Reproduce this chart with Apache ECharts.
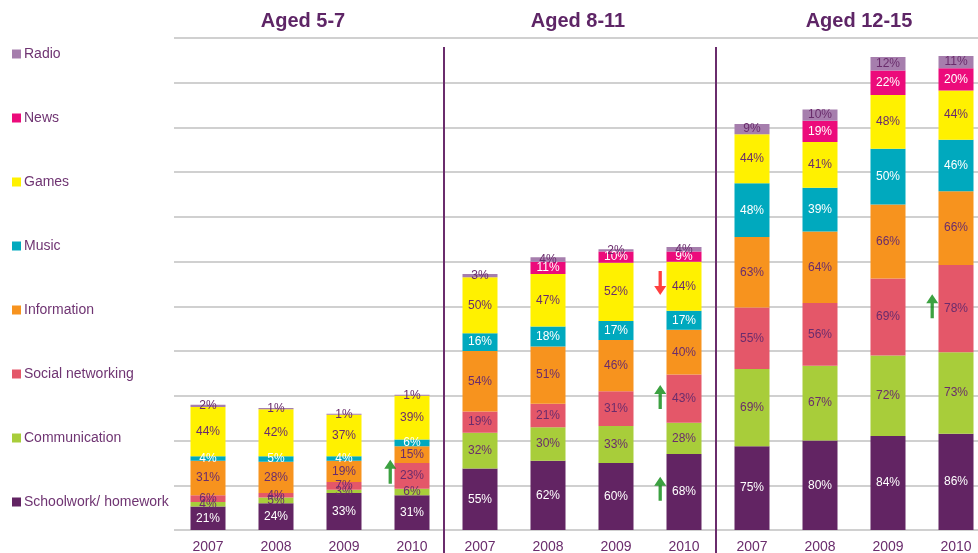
<!DOCTYPE html>
<html>
<head>
<meta charset="utf-8">
<script src="https://cdn.jsdelivr.net/npm/echarts@6/dist/echarts.min.js"></script>
<style>
html,body{margin:0;padding:0;background:#fff;}
#c{width:978px;height:553px;}
</style>
</head>
<body>
<div id="c"></div>
<script>
// ---- data ----
const groups = ['Aged 5-7', 'Aged 8-11', 'Aged 12-15'];
const years = ['2007', '2008', '2009', '2010'];
const schoolwork    = [21, 24, 33, 31, 55, 62, 60, 68, 75, 80, 84, 86];
const communication = [4, 5, 3, 6, 32, 30, 33, 28, 69, 67, 72, 73];
const social        = [6, 4, 7, 23, 19, 21, 31, 43, 55, 56, 69, 78];
const information   = [31, 28, 19, 15, 54, 51, 46, 40, 63, 64, 66, 66];
const music         = [4, 5, 4, 6, 16, 18, 17, 17, 48, 39, 50, 46];
const games         = [44, 42, 37, 39, 50, 47, 52, 44, 44, 41, 48, 44];
const news          = [null, null, null, null, null, 11, 10, 9, null, 19, 22, 20];
const radio         = [2, 1, 1, 1, 3, 4, 2, 4, 9, 10, 12, 11];
// change arrows: [position on group axis, value, direction]
const arrows = [
  [3.18, 52, 'up'],
  [7.15, 221, 'down'],
  [7.15, 119, 'up'],
  [7.15, 37, 'up'],
  [11.15, 200, 'up']
];
const dividers = [4, 8];
const titlePos = [303, 578, 859];

// ---- build ----
const categories = [];
groups.forEach(g => years.forEach(y => categories.push(g + '|' + y)));

const PURPLE = '#6a2c6c';
const seriesDefs = [
  ['Schoolwork/ homework', schoolwork, '#622463', '#ffffff'],
  ['Communication', communication, '#a8cd3a', PURPLE],
  ['Social networking', social, '#e45769', PURPLE],
  ['Information', information, '#f7931e', PURPLE],
  ['Music', music, '#00a9be', '#ffffff'],
  ['Games', games, '#fff100', PURPLE],
  ['News', news, '#ec0b7b', '#ffffff'],
  ['Radio', radio, '#a67ead', PURPLE]
];

const series = seriesDefs.map(([name, data, color, lc]) => ({
  name, type: 'bar', stack: 'total', data, barWidth: 35,
  itemStyle: { color },
  label: {
    show: true, position: 'inside', color: lc,
    fontFamily: 'Liberation Sans, Arial, sans-serif', fontSize: 12,
    formatter: p => (p.value == null ? '' : p.value + '%')
  },
  emphasis: { disabled: true }
}));

series.push({
  type: 'scatter', xAxisIndex: 1, yAxisIndex: 0, silent: true, clip: false,
  symbol: 'path://M5.5,0 L11,9 L7,9 L7,24 L4,24 L4,9 L0,9 Z',
  symbolSize: [12, 24],
  data: arrows.map(a => ({
    value: [a[0], a[1]],
    symbolRotate: a[2] === 'down' ? 180 : 0,
    itemStyle: { color: a[2] === 'down' ? '#ff1010' : '#0b8a12' }
  })),
  z: 5
});

const chart = echarts.init(document.getElementById('c'), null, { renderer: 'canvas' });
chart.setOption({
  animation: false,
  backgroundColor: '#ffffff',
  textStyle: { fontFamily: 'Liberation Sans, Arial, sans-serif' },
  title: groups.map((g, i) => ({
    text: g, left: titlePos[i], top: 11, textAlign: 'center', padding: 0,
    textStyle: { color: '#5e2566', fontSize: 20, fontWeight: 'bold', fontFamily: 'Liberation Sans, Arial, sans-serif' }
  })),
  legend: {
    orient: 'vertical', left: 7, top: 42,
    itemWidth: 9, itemHeight: 9, itemGap: 50, icon: 'rect',
    data: ['Radio', 'News', 'Games', 'Music', 'Information', 'Social networking', 'Communication', 'Schoolwork/ homework'],
    textStyle: { color: '#6f3472', fontSize: 14, lineHeight: 14, padding: [0, 0, 0, -2], fontFamily: 'Liberation Sans, Arial, sans-serif' },
    selectedMode: false
  },
  grid: { left: 174, right: -12, top: 38, bottom: 23, containLabel: false, outerBoundsMode: 'none' },
  xAxis: [
    {
      type: 'category', data: categories,
      axisLine: { show: false }, axisTick: { show: false },
      axisLabel: {
        color: '#6a2c6c', fontSize: 14, margin: 10,
        fontFamily: 'Liberation Sans, Arial, sans-serif',
        formatter: v => v.split('|')[1]
      }
    },
    { type: 'value', min: 0, max: 12, show: false }
  ],
  yAxis: {
    type: 'value', min: 0, max: 440, interval: 40,
    axisLabel: { show: false }, axisLine: { show: false }, axisTick: { show: false },
    splitLine: { lineStyle: { color: '#d0d0d0', width: 2 } }
  },
  series
});

// group dividers, positioned through the axes' scales
const yTop = chart.convertToPixel({ yAxisIndex: 0 }, 432);
const yBot = chart.convertToPixel({ yAxisIndex: 0 }, -21);
chart.setOption({
  graphic: dividers.map(d => {
    const x = chart.convertToPixel({ xAxisIndex: 1 }, d) - 2;
    return {
      type: 'line', silent: true, z: 10,
      shape: { x1: x, y1: yTop, x2: x, y2: yBot },
      style: { stroke: '#6a2c6c', lineWidth: 2 }
    };
  })
});
</script>
</body>
</html>
